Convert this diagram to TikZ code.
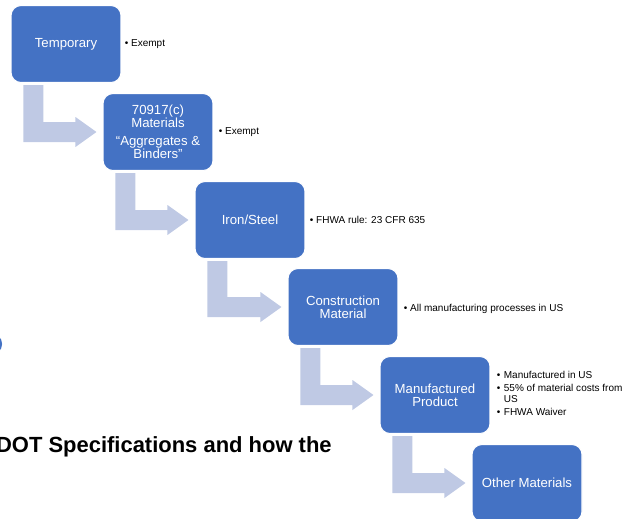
\documentclass[tikz,border=0pt]{standalone}
\usepackage{fontspec}
\setmainfont{Liberation Sans}
\usetikzlibrary{calc}
\definecolor{boxblue}{HTML}{4472C4}
\definecolor{arrowblue}{HTML}{BFC9E4}
\tikzset{
  stage/.style={rectangle, rounded corners=2mm, fill=boxblue, draw=white, line width=0.6pt,
    minimum width=2.2cm, minimum height=1.54cm, text=white, align=center,
    font=\fontsize{7.5}{7.4}\selectfont},
  note/.style={anchor=west, align=left, inner sep=0pt, font=\fontsize{5.7}{6}\selectfont},
  stairs/.style={fill=arrowblue}
}
\newcommand{\stairarrow}[2]{%
  \coordinate (sa) at ($(#1.south west)+(13,2)$);
  \coordinate (sb) at ($(#1.south west)+(33,2)$);
  \coordinate (hu) at ($(#2.west)+(-27,-10)$);
  \coordinate (hd) at ($(#2.west)+(-27,10)$);
  \coordinate (hu2) at ($(#2.west)+(-27,-15)$);
  \coordinate (hd2) at ($(#2.west)+(-27,15)$);
  \coordinate (tp) at ($(#2.west)+(-6,0)$);
  \fill[stairs] (sa) -- (sb) -- (sb |- hu) -- (hu) -- (hu2) -- (tp) -- (hd2) -- (hd) -- (sa |- hd) -- cycle;
}

\begin{document}
\begin{tikzpicture}[x=0.02cm,y=-0.02cm]
\useasboundingbox (0,0) rectangle (631,518);
\clip (0,0) rectangle (631,518);

\node (B1) at (66,44) [stage] {Temporary};
\node (B2) at (158,132) [stage] {70917(c)\\Materials\\[2.8pt]\textquotedblleft Aggregates \&\\Binders\textquotedblright};
\node (B3) at (250,220) [stage] {Iron/Steel};
\node (B4) at (343,307) [stage] {Construction\\Material};
\node (B5) at (435,395) [stage] {Manufactured\\Product};
\node (B6) at (527,483) [stage] {Other Materials};

\node (L1) at ($(B1.east)+(3,0)$) [note] {\textbullet\ Exempt};
\node (L2) at ($(B2.east)+(5,0)$) [note] {\textbullet\ Exempt};
\node (L3) at ($(B3.east)+(4,0)$) [note] {\textbullet\ FHWA rule: 23 CFR 635};
\node (L4) at ($(B4.east)+(5,2)$) [note] {\textbullet\ All manufacturing processes in US};
\node (L5) at ($(B5.east)+(6,0)$) [note] {\begin{tabular}{@{}l@{\hspace{2pt}}l@{}}
\textbullet & Manufactured in US\\[1.7pt]
\textbullet & 55\% of material costs from\\
 & US\\[1.7pt]
\textbullet & FHWA Waiver
\end{tabular}};

\stairarrow{B1}{B2}
\stairarrow{B2}{B3}
\stairarrow{B3}{B4}
\stairarrow{B4}{B5}
\stairarrow{B5}{B6}

\node (T) at (332,452) [anchor=base east, inner sep=0pt, font=\bfseries\fontsize{12.5}{14}\selectfont] {DOT Specifications and how the};
\draw [boxblue, line width=1.2pt] (-9,344) circle (10);
\end{tikzpicture}
\end{document}
